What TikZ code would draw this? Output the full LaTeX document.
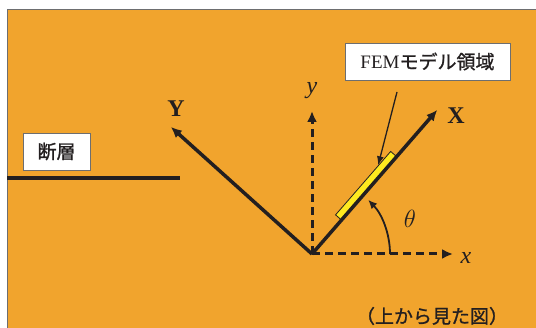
\documentclass[tikz,border=0pt]{standalone}
\usepackage{fontspec}
\setmainfont{Liberation Serif}
\newfontfamily\jpfont[FakeBold=1]{Noto Sans CJK JP}
\usetikzlibrary{arrows.meta, positioning, calc}
\definecolor{bgOrange}{HTML}{F1A42D}
\definecolor{lineDark}{HTML}{231F20}
\definecolor{femYellow}{HTML}{FFEA1F}
\definecolor{frameGray}{HTML}{6D6E70}

\begin{document}
\begin{tikzpicture}[
    x=1pt, y=1pt,
    axis/.style={-{Latex[length=11pt,width=10pt]}, line width=3.5pt, lineDark},
    dashaxis/.style={axis, line width=3pt, dash pattern=on 8pt off 5pt},
    tag/.style={rectangle, draw=frameGray, fill=white, line width=0.8pt,
                font=\jpfont\fontsize{19}{19}\selectfont, text=lineDark,
                minimum height=37pt, inner sep=0pt},
    axlabel/.style={font=\fontsize{24}{24}\selectfont\bfseries, text=lineDark},
    coordlabel/.style={font=\fontsize{24}{24}\selectfont\itshape, text=lineDark}
  ]
    \useasboundingbox (0,0) rectangle (536,327);
    \clip (0,0) rectangle (536,327);
    \fill[white] (0,0) rectangle (536,327);
    \draw[frameGray, fill=bgOrange, line width=0.8pt] (7,-10) rectangle (550,318);

    % fault
    \coordinate (faultL) at (7,149);
    \coordinate (faultR) at (180,149);
    \draw[line width=4pt, lineDark] (faultL) -- (faultR);
    \node[tag, minimum width=67pt] (fault) at (56.5,175.5) {断層};

    % axes
    \coordinate (O) at (312,73);
    \coordinate (xtip) at (453,73);
    \coordinate (ytip) at (312,216);
    \coordinate (Xtip) at ($(O)+(49:191)$);
    \coordinate (Ytip) at ($(O)+(138:190)$);

    \node[draw=lineDark, fill=femYellow, line width=0.8pt, rotate=49, anchor=south,
          minimum width=84pt, minimum height=7.5pt, inner sep=0pt] (fem) at ($(O)+(49:87)$) {};

    \draw[dashaxis] (O) -- (xtip);
    \draw[dashaxis] (O) -- (ytip);
    \draw[axis] (O) -- (Xtip);
    \draw[axis] (O) -- (Ytip);

    \node[coordlabel] (xlab) at (466,69) {x};
    \node[coordlabel] (ylab) at (312,236) {y};
    \node[axlabel] (Xlab) at (456,211) {X};
    \node[axlabel] (Ylab) at (176,218) {Y};

    % angle
    \draw[-{Latex[length=9pt,width=8pt]}, line width=1.8pt, lineDark]
      ($(O)+(78,0)$) arc[start angle=0, end angle=44, radius=78];
    \node[coordlabel] (theta) at (410,108) {$\theta$};

    % FEM model region
    \node[tag, minimum width=165pt] (femtag) at (427.5,265.5) {{\rmfamily FEM}モデル領域};
    \coordinate (femfrom) at (397,235);
    \draw[-{Latex[length=9pt,width=7pt]}, line width=1.3pt, lineDark]
      (femfrom) -- ($(fem.north)!0.55!(fem.north east)$);

    \node[font=\jpfont\fontsize{19}{19}\selectfont, text=lineDark] (caption) at (432,11) {（上から見た図）};
  \end{tikzpicture}
\end{document}
